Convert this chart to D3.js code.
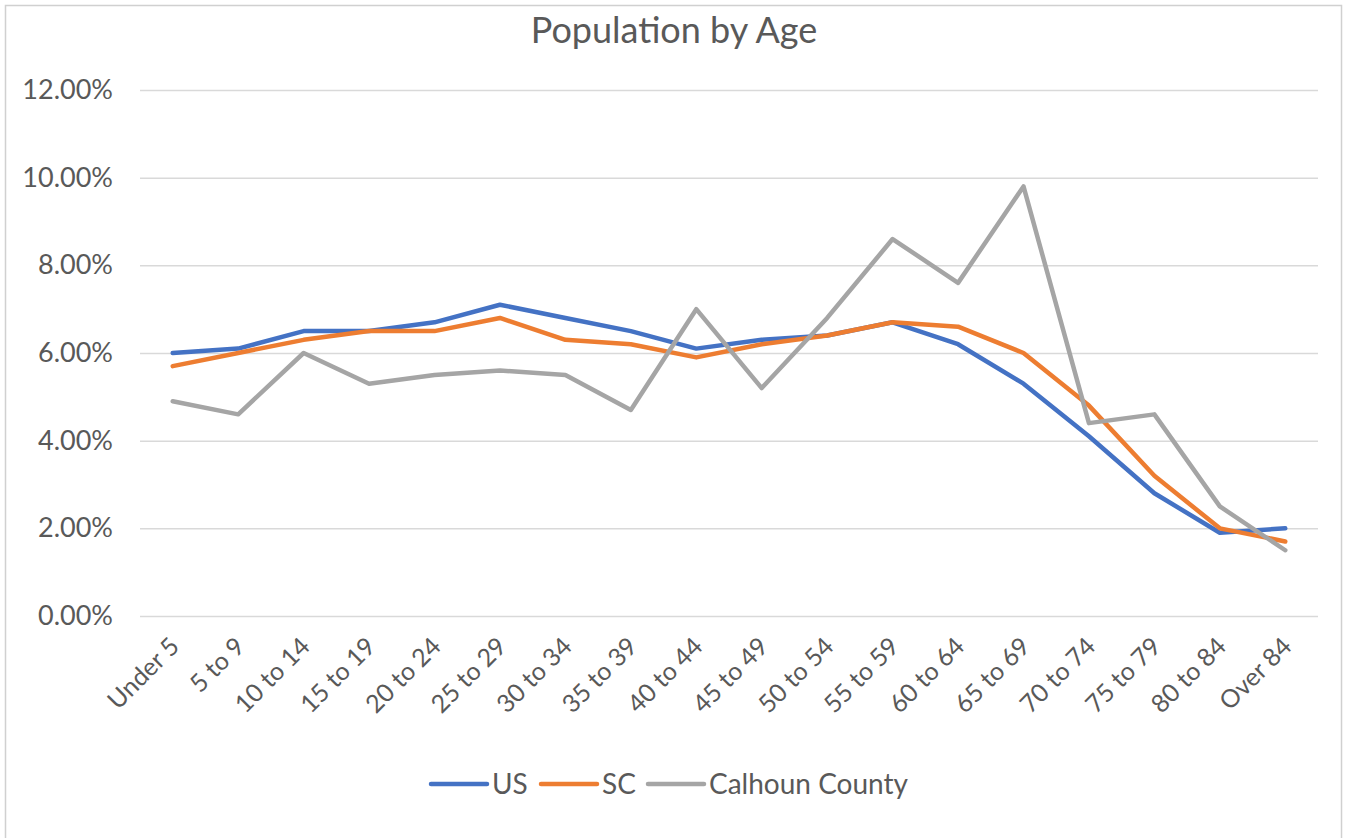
<!DOCTYPE html>
<html>
<head>
<meta charset="utf-8">
<script src="https://cdn.jsdelivr.net/npm/d3@7"></script>
<style>
  html, body { margin: 0; padding: 0; background: #ffffff; }
  svg { display: block; }
  text { font-family: Lato, "Open Sans", sans-serif; fill: #595959; }
</style>
</head>
<body>
<svg id="chart" width="1345" height="838"></svg>
<script>
// Age groups along the x axis
const ageGroups = ["Under 5", "5 to 9", "10 to 14", "15 to 19", "20 to 24", "25 to 29",
  "30 to 34", "35 to 39", "40 to 44", "45 to 49", "50 to 54", "55 to 59",
  "60 to 64", "65 to 69", "70 to 74", "75 to 79", "80 to 84", "Over 84"];

// Share of population in each age group (percent)
const usValues = [6.0, 6.1, 6.5, 6.5, 6.7, 7.1, 6.8, 6.5, 6.1, 6.3, 6.4, 6.7,
  6.2, 5.3, 4.1, 2.8, 1.9, 2.0];
const scValues = [5.7, 6.0, 6.3, 6.5, 6.5, 6.8, 6.3, 6.2, 5.9, 6.2, 6.4, 6.7,
  6.6, 6.0, 4.8, 3.2, 2.0, 1.7];
const calhounValues = [4.9, 4.6, 6.0, 5.3, 5.5, 5.6, 5.5, 4.7, 7.0, 5.2, 6.8, 8.6,
  7.6, 9.8, 4.4, 4.6, 2.5, 1.5];

const yTicks = [0, 2, 4, 6, 8, 10, 12];

const seriesNames = ["US", "SC", "Calhoun County"];
const seriesColors = ["#4472C4", "#ED7D31", "#A5A5A5"];
const seriesValues = [usValues, scValues, calhounValues];

const svg = d3.select("#chart");

// Chart frame
svg.append("rect")
  .attr("x", 5.5).attr("y", 5.5)
  .attr("width", 1336).attr("height", 850)
  .attr("fill", "#ffffff")
  .attr("stroke", "#d0d0d0")
  .attr("stroke-width", 1.5);

const plot = { left: 140, right: 1318, top: 90, bottom: 616 };

const x = d3.scaleBand()
  .domain(ageGroups)
  .range([plot.left, plot.right]);

const y = d3.scaleLinear()
  .domain([0, 12])
  .range([plot.bottom, plot.top]);

// Title
svg.append("text")
  .attr("x", 674).attr("y", 43)
  .attr("text-anchor", "middle")
  .attr("font-size", 36)
  .text("Population by Age");

// Horizontal gridlines and y labels
const yAxis = d3.axisLeft(y)
  .tickValues(yTicks)
  .tickSize(-(plot.right - plot.left))
  .tickPadding(27)
  .tickFormat(d => d.toFixed(2) + "%");

const yG = svg.append("g")
  .attr("transform", `translate(${plot.left},0)`)
  .call(yAxis);
yG.select(".domain").remove();
yG.selectAll(".tick line").attr("stroke", "#d9d9d9").attr("stroke-width", 1.5);
yG.selectAll(".tick text")
  .attr("font-size", 27)
  .attr("fill", "#595959")
  .attr("font-family", "Lato, sans-serif");

// Category axis with rotated labels
const xAxis = d3.axisBottom(x).tickSize(0).tickPadding(0);
const xG = svg.append("g")
  .attr("transform", `translate(0,${plot.bottom})`)
  .call(xAxis);
xG.select(".domain").remove();
xG.selectAll(".tick text")
  .attr("font-size", 25)
  .attr("fill", "#595959")
  .attr("font-family", "Lato, sans-serif")
  .attr("text-anchor", "end")
  .attr("dy", 0)
  .attr("transform", "translate(8,32) rotate(-45)");

// Series lines
const line = d3.line()
  .x((d, i) => x(ageGroups[i]) + x.bandwidth() / 2)
  .y(d => y(d));

seriesValues.forEach((vals, k) => {
  svg.append("path")
    .datum(vals)
    .attr("fill", "none")
    .attr("stroke", seriesColors[k])
    .attr("stroke-width", 4.5)
    .attr("stroke-linejoin", "round")
    .attr("stroke-linecap", "round")
    .attr("d", line);
});

// Legend
const legendItems = [
  { name: seriesNames[0], color: seriesColors[0], x: 431 },
  { name: seriesNames[1], color: seriesColors[1], x: 541 },
  { name: seriesNames[2], color: seriesColors[2], x: 648 }
];
const legendY = 784;
const lg = svg.append("g");
legendItems.forEach(item => {
  lg.append("line")
    .attr("x1", item.x).attr("x2", item.x + 56)
    .attr("y1", legendY).attr("y2", legendY)
    .attr("stroke", item.color)
    .attr("stroke-width", 4.5)
    .attr("stroke-linecap", "round");
  lg.append("text")
    .attr("x", item.x + 61).attr("y", legendY + 10)
    .attr("font-size", 28)
    .text(item.name);
});
</script>
</body>
</html>
